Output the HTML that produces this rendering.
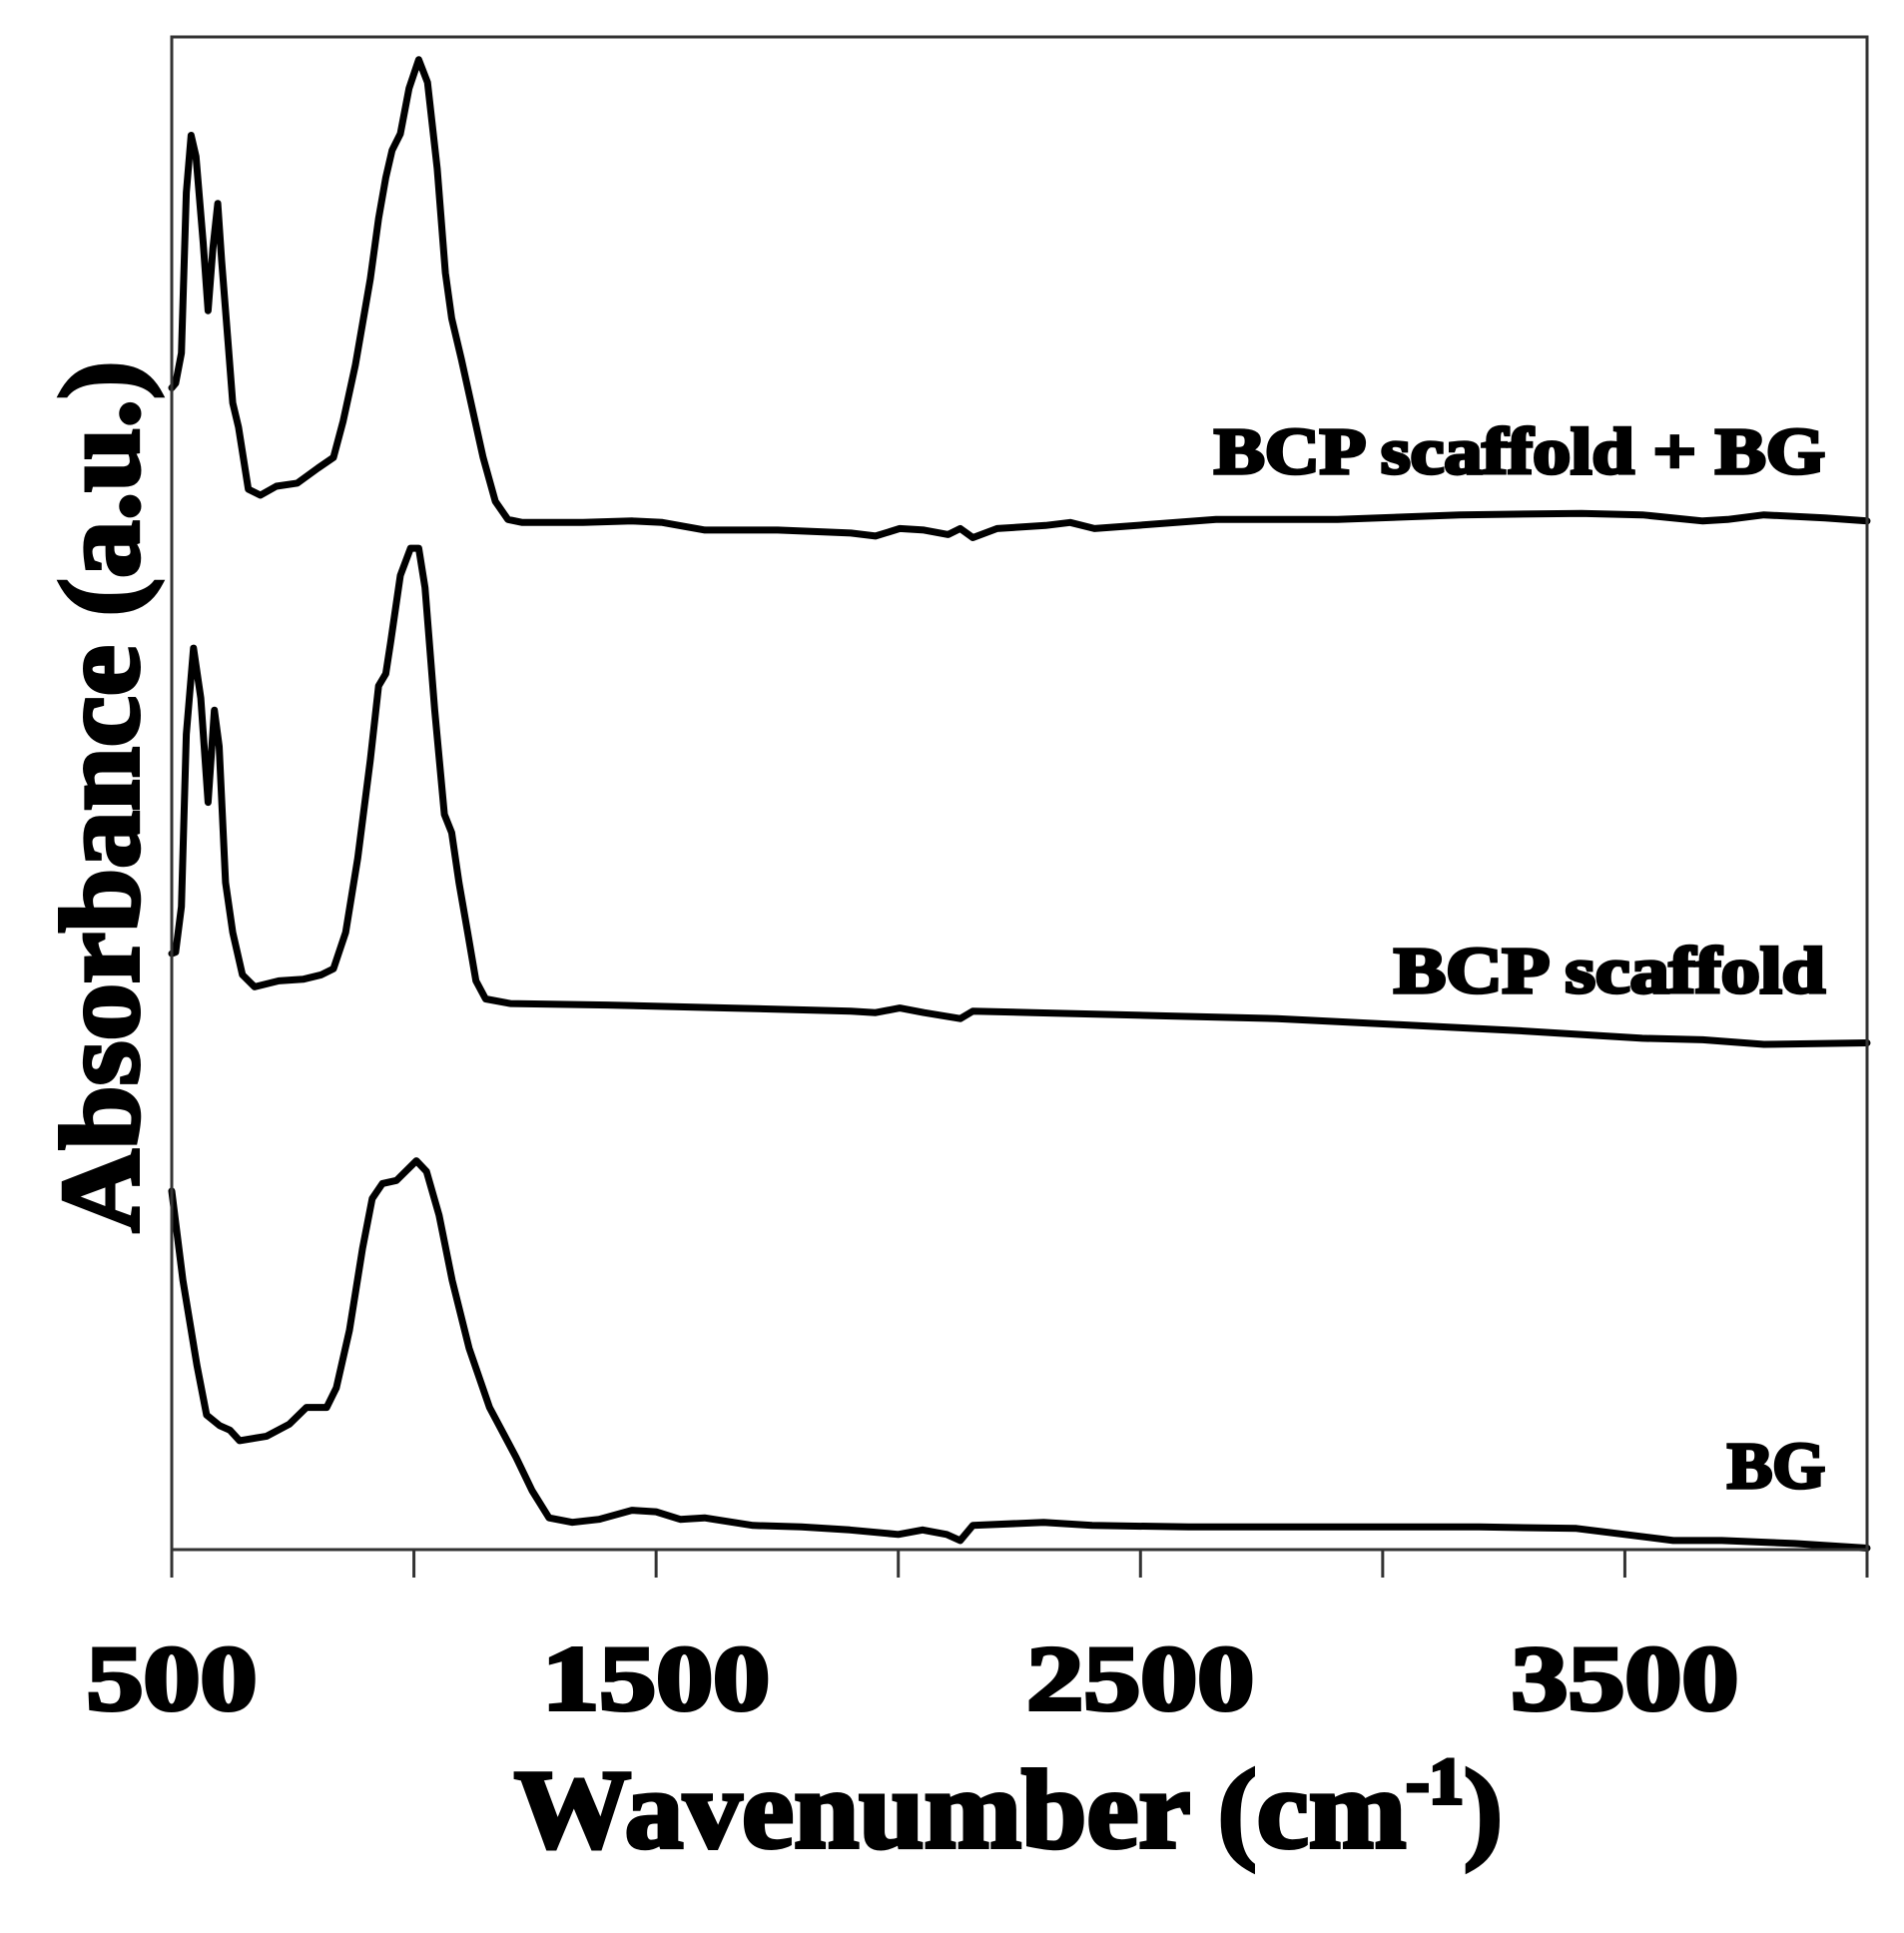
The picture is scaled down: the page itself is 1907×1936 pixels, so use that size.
<!DOCTYPE html>
<html><head><meta charset="utf-8"><style>
html,body{margin:0;padding:0;background:#fff;}
svg{display:block;}
text{font-family:"Liberation Serif",serif;font-weight:bold;fill:#000;stroke:#000;}
</style></head><body>
<svg id="chart" width="1907" height="1936" viewBox="0 0 1907 1936" xmlns="http://www.w3.org/2000/svg">
<g id="plot"></g>
<g id="axes"></g>
<text transform="translate(138,798) rotate(-90)" text-anchor="middle" font-size="112" stroke-width="4" textLength="873" lengthAdjust="spacingAndGlyphs">Absorbance (a.u.)</text>
<text x="1010" y="1850" text-anchor="middle" font-size="112" stroke-width="4" textLength="990" lengthAdjust="spacingAndGlyphs">Wavenumber (cm<tspan font-size="66" dy="-44">-1</tspan><tspan dy="44">)</tspan></text>
</svg>
<script>
const wnTop=[500,508,520,530,540,550,565,575,585,595,603,616,626,638,658,683,716,759,802,834,854,879,910,927,942,955,972,990,1010,1028,1048,1065,1078,1098,1118,1143,1168,1194,1224,1349,1450,1513,1601,1751,1902,1953,2003,2053,2103,2128,2154,2204,2304,2355,2405,2656,2907,3159,3410,3536,3661,3712,3787,3913,4000];
const absTop=[76.8,77.1,79.1,89.7,93.5,92.1,86.4,81.9,86.0,89.0,85.2,79.9,75.8,74.2,70.1,69.7,70.3,70.5,71.5,72.2,74.6,78.3,84.0,88.0,90.7,92.5,93.6,96.6,98.5,97.0,91.3,84.4,81.4,78.7,75.8,72.2,69.3,68.1,67.9,67.9,68.0,67.9,67.4,67.4,67.2,67.0,67.5,67.4,67.1,67.5,66.9,67.5,67.7,67.9,67.5,68.1,68.1,68.4,68.5,68.4,68.0,68.1,68.4,68.2,68.0];
const wnMid=[500,508,520,530,545,560,575,588,598,611,626,646,671,721,771,809,834,859,884,910,927,942,952,972,993,1010,1023,1043,1063,1078,1093,1111,1128,1148,1199,1400,1651,1902,1953,2003,2053,2128,2154,2279,2531,2782,3033,3284,3536,3661,3787,4000];
const absMid=[39.4,39.5,42.5,53.9,59.6,56.3,49.4,55.5,53.1,44.1,40.8,38.0,37.2,37.6,37.7,38.0,38.4,40.8,45.7,52.2,57.1,57.9,60.0,64.4,66.2,66.2,63.6,55.5,48.6,47.4,44.1,40.8,37.6,36.4,36.1,36.0,35.8,35.6,35.5,35.8,35.5,35.1,35.6,35.5,35.3,35.1,34.7,34.3,33.8,33.7,33.4,33.5];
const wnBot=[500,523,552,572,599,620,640,696,743,778,820,840,867,894,914,935,964,1005,1026,1052,1079,1114,1156,1211,1244,1279,1327,1382,1450,1500,1550,1600,1700,1800,1900,2000,2050,2100,2128,2154,2300,2400,2600,2900,3200,3400,3500,3600,3700,3850,4000];
const absBot=[23.7,17.8,12.2,8.9,8.2,7.9,7.2,7.5,8.3,9.4,9.4,10.7,14.5,19.9,23.2,24.2,24.4,25.7,25.0,22.1,17.8,13.3,9.4,6.1,3.9,2.1,1.8,2.0,2.6,2.5,2.0,2.1,1.6,1.5,1.3,1.0,1.3,1.0,0.6,1.6,1.8,1.6,1.5,1.5,1.5,1.4,1.0,0.6,0.6,0.4,0.1];
const seriesNames=["BCP scaffold + BG","BCP scaffold","BG"];
const xTicks=[500,1000,1500,2000,2500,3000,3500,4000];
const xTickLabels=["500","1500","2500","3500"];
const X0=172,X1=1870,Y0=1552,Y1=37;
function xs(v){return X0+(v-500)/3500*(X1-X0);}
function ys(a){return Y0-a/100*(Y0-Y1);}
const NS="http://www.w3.org/2000/svg";
const plot=document.getElementById('plot'),axes=document.getElementById('axes');
function mk(t,attrs,parent){const e=document.createElementNS(NS,t);for(const k in attrs)e.setAttribute(k,attrs[k]);parent.appendChild(e);return e;}
const box=mk('rect',{x:X0,y:Y1,width:X1-X0,height:Y0-Y1,fill:'none',stroke:'#333','stroke-width':3},axes);


xTicks.forEach((t,i)=>{
  const l=mk('line',{x1:xs(t),x2:xs(t),y1:Y0,y2:Y0+28,stroke:'#333','stroke-width':3},axes);
  
  
});
xTickLabels.forEach(s=>{
  const t=mk('text',{x:xs(+s),y:1712,'text-anchor':'middle','font-size':92,'stroke-width':4,textLength:s.length*57,lengthAdjust:'spacingAndGlyphs'},axes);
  t.textContent=s;
  
  
});
const all=[[wnTop,absTop,'bcp-bg-line'],[wnMid,absMid,'bcp-line'],[wnBot,absBot,'bg-line']];
all.forEach(([w,a,n])=>{
  const d=w.map((v,i)=>(i?'L':'M')+xs(v).toFixed(1)+','+ys(a[i]).toFixed(1)).join(' ');
  const p=mk('path',{d:d,fill:'none',stroke:'#000','stroke-width':7,'stroke-linejoin':'round','stroke-linecap':'round'},plot);
  
  
});
const labY=[474,994,1490];
const labW=[612,432,98];
const labNames=['label-bcp-bg','label-bcp','label-bg'];
seriesNames.forEach((s,i)=>{
  const t=mk('text',{x:1828,y:labY[i],'text-anchor':'end','font-size':66,'stroke-width':3.5,textLength:labW[i],lengthAdjust:'spacingAndGlyphs'},plot);
  t.textContent=s;
  
  
});
</script>
</body></html>
